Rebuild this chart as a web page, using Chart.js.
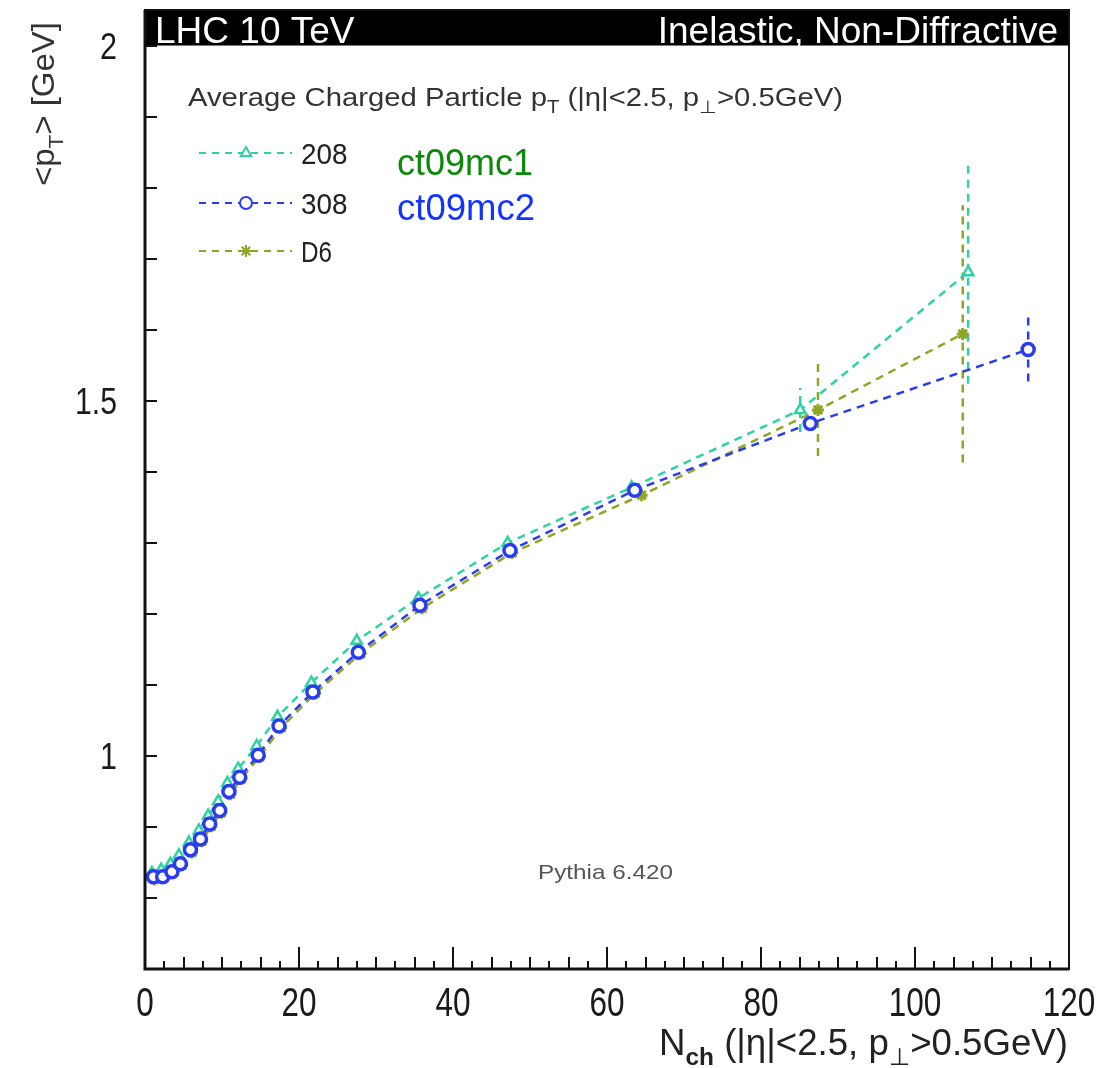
<!DOCTYPE html>
<html>
<head>
<meta charset="utf-8">
<script src="https://cdn.jsdelivr.net/npm/chart.js@4.4.1/dist/chart.umd.min.js"></script>
<style>
  body { margin: 0; background: #fff; }
  canvas { display: block; }
</style>
</head>
<body>
<canvas id="myChart" width="1109" height="1068"></canvas>
<script>
// mean Nch per bin and <pT> per tune
const nch208 = [0.9, 2.1, 3.3, 4.4, 5.7, 7.0, 8.2, 9.5, 10.7, 12.1, 14.5, 17.2, 21.6, 27.5, 35.5, 47.1, 63.2, 85.1, 106.9];
const pt208 = [0.835, 0.840, 0.848, 0.860, 0.878, 0.895, 0.916, 0.936, 0.962, 0.982, 1.014, 1.055, 1.103, 1.162, 1.222, 1.300, 1.378, 1.487, 1.681];
const err208 = [0, 0, 0, 0, 0, 0, 0, 0, 0, 0, 0, 0, 0, 0, 0, 0, 0.004, 0.031, 0.157];

const nch308 = [1.1, 2.3, 3.5, 4.6, 5.9, 7.2, 8.4, 9.7, 10.9, 12.3, 14.7, 17.4, 21.8, 27.7, 35.7, 47.4, 63.6, 86.4, 114.7];
const pt308 = [0.830, 0.830, 0.837, 0.848, 0.868, 0.883, 0.904, 0.923, 0.950, 0.970, 1.001, 1.042, 1.090, 1.146, 1.212, 1.289, 1.374, 1.468, 1.572];
const err308 = [0, 0, 0, 0, 0, 0, 0, 0, 0, 0, 0, 0, 0, 0, 0, 0, 0.003, 0.008, 0.045];

const nchD6 = [1.2, 2.4, 3.6, 4.8, 6.1, 7.4, 8.6, 9.9, 11.1, 12.5, 14.9, 17.7, 22.1, 28.0, 36.0, 47.7, 64.5, 87.4, 106.2];
const ptD6 = [0.826, 0.828, 0.835, 0.846, 0.864, 0.880, 0.901, 0.920, 0.946, 0.968, 0.999, 1.040, 1.088, 1.144, 1.208, 1.286, 1.367, 1.487, 1.594];
const errD6 = [0, 0, 0, 0, 0, 0, 0, 0, 0, 0, 0, 0, 0, 0, 0, 0, 0.005, 0.065, 0.181];

const yLabels = [1, 1.5, 2];

const col208 = "#2fd3a2";
const col308 = "#2a3cf2";
const colD6 = "#8ea626";
const FONT = "'Liberation Sans', Arial, sans-serif";

const toPoints = (xs, ys) => xs.map((x, i) => ({ x: x, y: ys[i] }));

// text run with subscripts; width lets it be squeezed/stretched to the plot's lettering
function drawRich(ctx, parts, x, y, size, color, align, width) {
    const fontOf = p => `${p.bold ? "bold " : ""}${p.sub ? Math.round(size * 0.68) : size}px ${FONT}`;
    let total = 0;
    parts.forEach(p => { ctx.font = fontOf(p); total += ctx.measureText(p.t).width; });
    const sx = width ? width / total : 1;
    let x0 = x;
    if (align === "right") x0 = x - total * sx;
    if (align === "center") x0 = x - total * sx / 2;
    ctx.save();
    ctx.translate(x0, y);
    ctx.scale(sx, 1);
    ctx.fillStyle = color;
    ctx.textAlign = "left";
    ctx.textBaseline = "alphabetic";
    let cx = 0;
    parts.forEach(p => {
        ctx.font = fontOf(p);
        ctx.fillText(p.t, cx, p.sub ? size * 0.28 : 0);
        cx += ctx.measureText(p.t).width;
    });
    ctx.restore();
}

const errorBars = {
    id: "errorBars",
    beforeDatasetsDraw(chart) {
        const ctx = chart.ctx;
        const ys = chart.scales.y, xs = chart.scales.x;
        ctx.save();
        ctx.beginPath();
        ctx.rect(chart.chartArea.left, chart.chartArea.top, chart.chartArea.width, chart.chartArea.height);
        ctx.clip();
        chart.data.datasets.forEach(ds => {
            ctx.strokeStyle = ds.borderColor;
            ctx.lineWidth = 2.5;
            ctx.setLineDash([8, 6]);
            ds.data.forEach((p, i) => {
                const e = ds.errors[i];
                if (!e) return;
                const px = xs.getPixelForValue(p.x);
                ctx.beginPath();
                ctx.moveTo(px, ys.getPixelForValue(p.y - e));
                ctx.lineTo(px, ys.getPixelForValue(p.y + e));
                ctx.stroke();
            });
        });
        ctx.restore();
    }
};

const decorations = {
    id: "decorations",
    afterDraw(chart) {
        const ctx = chart.ctx;
        const a = chart.chartArea;
        const xs = chart.scales.x, ys = chart.scales.y;
        ctx.save();

        // header bar
        const barBottom = ys.getPixelForValue(2);
        ctx.fillStyle = "#000";
        ctx.fillRect(a.left, a.top, a.right - a.left, barBottom - a.top);
        ctx.fillStyle = "#fff";
        ctx.font = `37px ${FONT}`;
        ctx.textBaseline = "alphabetic";
        ctx.textAlign = "left";
        ctx.fillText("LHC 10 TeV", a.left + 10, barBottom - 3);
        ctx.textAlign = "right";
        ctx.fillText("Inelastic, Non-Diffractive", a.right - 11, barBottom - 3);

        // frame
        ctx.strokeStyle = "#111";
        ctx.lineWidth = 2;
        ctx.strokeRect(a.left, a.top, a.right - a.left, a.bottom - a.top);
        ctx.lineWidth = 3;
        ctx.beginPath();
        ctx.moveTo(a.left, a.top);
        ctx.lineTo(a.left, a.bottom);
        ctx.lineTo(a.right, a.bottom);
        ctx.stroke();

        // inward ticks
        ctx.lineWidth = 2;
        for (let v = 0.7; v <= 2.0001; v += 0.1) {
            const py = Math.round(ys.getPixelForValue(v));
            ctx.beginPath();
            ctx.moveTo(a.left, py);
            ctx.lineTo(a.left + 12, py);
            ctx.stroke();
        }
        for (let k = 0; k <= 48; k++) {
            const px = Math.round(xs.getPixelForValue(k * 2.5));
            const len = k % 8 === 0 ? 22 : (k % 2 === 0 ? 12 : 8);
            ctx.beginPath();
            ctx.moveTo(px, a.bottom);
            ctx.lineTo(px, a.bottom - len);
            ctx.stroke();
        }

        // tick labels from the library's ticks
        xs.ticks.forEach(t => {
            const px = xs.getPixelForValue(t.value);
            drawRich(ctx, [{ t: String(t.value) }], px, 1016, 41, "#1a1a1a", "center",
                String(t.value).length * 17.5);
        });
        ys.ticks.forEach(t => {
            const hit = yLabels.find(l => Math.abs(l - t.value) < 1e-6);
            if (hit === undefined) return;
            const py = ys.getPixelForValue(hit);
            const s = String(hit);
            drawRich(ctx, [{ t: s }], 117, py + 13, 37, "#1a1a1a", "right",
                s === "1.5" ? 42 : 17);
        });

        // plot description
        drawRich(ctx, [
            { t: "Average Charged Particle p" }, { t: "T", sub: true },
            { t: " (|\u03b7|<2.5, p" }, { t: "\u22a5", sub: true }, { t: ">0.5GeV)" }
        ], 188, 106, 26, "#333", "left", 655);

        // legend
        const rows = [
            { label: "208", color: col208, style: "triangle", y: 153 },
            { label: "308", color: col308, style: "circle", y: 203 },
            { label: "D6", color: colD6, style: "star", y: 251 }
        ];
        rows.forEach(r => {
            ctx.strokeStyle = r.color;
            ctx.lineWidth = 2;
            ctx.setLineDash([7, 6]);
            ctx.beginPath();
            ctx.moveTo(199, r.y);
            ctx.lineTo(292, r.y);
            ctx.stroke();
            ctx.setLineDash([]);
            ctx.fillStyle = "#fff";
            ctx.strokeStyle = r.color;
            ctx.lineWidth = 2;
            Chart.helpers.drawPoint(ctx, {
                pointStyle: r.style, radius: 6, borderWidth: 2, rotation: 0
            }, 246, r.y);
            drawRich(ctx, [{ t: r.label }], 301, r.y + 11, 30, "#222", "left",
                r.label.length * 15.5);
        });
        drawRich(ctx, [{ t: "ct09mc1" }], 397, 175, 37, "#0a8a0a", "left", 136);
        drawRich(ctx, [{ t: "ct09mc2" }], 397, 220, 37, "#1433ff", "left", 138);

        drawRich(ctx, [{ t: "Pythia 6.420" }], 538, 879, 21, "#555", "left", 135);

        // axis titles
        drawRich(ctx, [
            { t: "N" }, { t: "ch", sub: true, bold: true },
            { t: " (|\u03b7|<2.5, p" }, { t: "\u22a5", sub: true }, { t: ">0.5GeV)" }
        ], 1068, 1055, 36, "#222", "right", 409);

        ctx.translate(54, 186);
        ctx.rotate(-Math.PI / 2);
        drawRich(ctx, [
            { t: "<p" }, { t: "T", sub: true }, { t: "> [GeV]" }
        ], 0, 0, 31, "#333", "left", 164);

        ctx.restore();
    }
};

const common = {
    showLine: true,
    borderWidth: 2.5,
    borderDash: [8, 6],
    pointRadius: 6,
    pointBorderWidth: 2.5,
    pointBackgroundColor: "#fff",
    tension: 0
};

new Chart(document.getElementById("myChart"), {
    type: "line",
    data: {
        datasets: [
            Object.assign({}, common, {
                label: "308", data: toPoints(nch308, pt308), errors: err308,
                borderColor: col308, pointBorderColor: col308, pointStyle: "circle",
                pointBorderWidth: 3.5, order: 1
            }),
            Object.assign({}, common, {
                label: "208", data: toPoints(nch208, pt208), errors: err208,
                borderColor: col208, pointBorderColor: col208, pointStyle: "triangle", order: 2
            }),
            Object.assign({}, common, {
                label: "D6", data: toPoints(nchD6, ptD6), errors: errD6,
                borderColor: colD6, pointBorderColor: colD6, pointStyle: "star",
                pointBorderWidth: 3, order: 3
            })
        ]
    },
    options: {
        responsive: false,
        animation: false,
        layout: { padding: { top: 10, right: 40, left: 0, bottom: 0 } },
        plugins: { legend: { display: false }, tooltip: { enabled: false } },
        scales: {
            x: {
                type: "linear",
                min: 0,
                max: 120,
                grid: { display: false, drawTicks: false },
                border: { display: false },
                ticks: { stepSize: 20, display: false },
                afterFit: scale => {
                    scale.height = 99;
                    scale.paddingLeft = 0;
                    scale.paddingRight = 0;
                }
            },
            y: {
                min: 0.7,
                max: 2.05,
                grid: { display: false, drawTicks: false },
                border: { display: false },
                ticks: { stepSize: 0.1, display: false, autoSkip: false },
                afterFit: scale => {
                    scale.width = 145;
                    scale.paddingTop = 0;
                    scale.paddingBottom = 0;
                }
            }
        }
    },
    plugins: [errorBars, decorations]
});
</script>
</body>
</html>
